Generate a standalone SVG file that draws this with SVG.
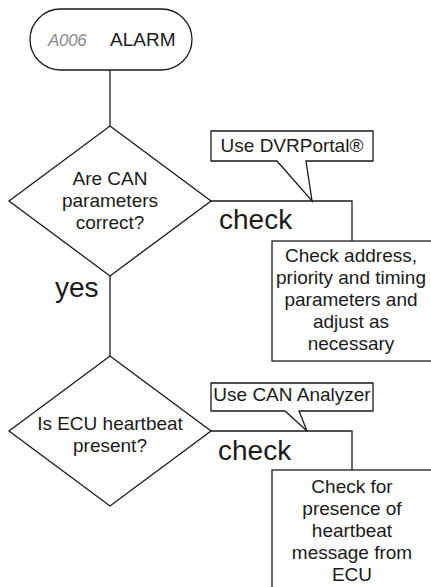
<svg xmlns="http://www.w3.org/2000/svg" width="431" height="587" viewBox="0 0 431 587">
<style>
.s{fill:#fff;stroke:#1a1a1a;stroke-width:1.3}
.l{fill:none;stroke:#1a1a1a;stroke-width:1.3}
.t{font-family:"Liberation Sans",Arial,sans-serif;font-size:19px;fill:#1a1a1a;text-anchor:middle}
.big{font-family:"Liberation Sans",Arial,sans-serif;font-size:28px;fill:#1a1a1a}
</style>
<rect width="431" height="587" fill="#fff"/>
<g id="connectors">
<path class="l" d="M110 70 V126"/>
<path class="l" d="M110 276 V356"/>
<path class="l" d="M211 201 H352 V241"/>
<path class="l" d="M211 431 H352 V470"/>
<text class="big" x="55" y="297">yes</text>
<text class="big" x="219" y="229">check</text>
<text class="big" x="218" y="460">check</text>
</g>
<g id="alarm">
<rect class="s" x="30" y="9" width="162" height="61" rx="30.5"/>
<text x="48" y="46" font-family="Liberation Sans,Arial,sans-serif" font-style="italic" font-size="17" fill="#8a8a8a" letter-spacing="-0.3">A006</text>
<text x="110" y="46" font-family="Liberation Sans,Arial,sans-serif" font-size="19" fill="#1a1a1a">ALARM</text>
</g>
<g id="decision1">
<polygon class="s" points="110,126 211,201 110,276 9,201"/>
<text class="t" x="110" y="185">Are CAN</text>
<text class="t" x="110" y="207">parameters</text>
<text class="t" x="110" y="229">correct?</text>
</g>
<g id="callout1">
<path class="s" d="M211 131 H373 V161 H306 L312 201 L277 161 H211 Z"/>
<text class="t" x="292" y="152">Use DVRPortal®</text>
</g>
<g id="action1">
<rect class="s" x="272" y="241" width="165" height="120"/>
<text class="t" x="351" y="262">Check address,</text>
<text class="t" x="351" y="284">priority and timing</text>
<text class="t" x="351" y="306">parameters and</text>
<text class="t" x="351" y="328">adjust as</text>
<text class="t" x="351" y="350">necessary</text>
</g>
<g id="decision2">
<polygon class="s" points="110,356 211,431 110,506 9,431"/>
<text class="t" x="110" y="430">Is ECU heartbeat</text>
<text class="t" x="110" y="452">present?</text>
</g>
<g id="callout2">
<path class="s" d="M211 383 H373 V411 H299 L307 431 L285 411 H211 Z"/>
<text class="t" x="292" y="401">Use CAN Analyzer</text>
</g>
<g id="action2">
<rect class="s" x="272" y="470" width="165" height="130"/>
<text class="t" x="352" y="493">Check for</text>
<text class="t" x="352" y="515">presence of</text>
<text class="t" x="352" y="537">heartbeat</text>
<text class="t" x="352" y="559">message from</text>
<text class="t" x="352" y="581">ECU</text>
</g>
</svg>
